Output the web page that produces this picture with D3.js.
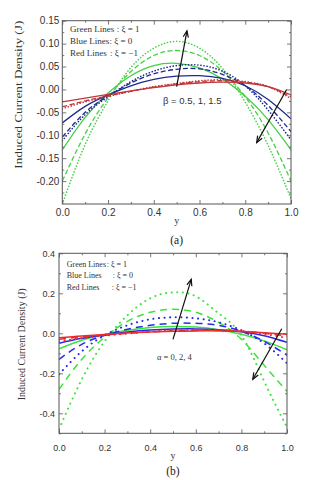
<!DOCTYPE html>
<html>
<head>
<meta charset="utf-8">
<script src="https://cdn.jsdelivr.net/npm/d3@7"></script>
<style>
body { margin: 0; background: #fff; }
svg { display: block; }
</style>
</head>
<body>
<svg id="chart" width="312" height="480"></svg>
<script>
// positions across the channel
var yPos = [0, 0.1, 0.2, 0.3, 0.4, 0.5, 0.6, 0.7, 0.8, 0.9, 1.0];

// panel (a): beta = 0.5 (solid), 1 (dashed), 1.5 (dotted)
var greenA = [
  [-0.132, -0.061, -0.008, 0.030, 0.052, 0.057, 0.047, 0.023, -0.015, -0.066, -0.132],
  [-0.200, -0.097, -0.018, 0.039, 0.074, 0.085, 0.074, 0.040, -0.016, -0.095, -0.200],
  [-0.250, -0.120, -0.025, 0.048, 0.090, 0.105, 0.090, 0.046, -0.028, -0.122, -0.238]
];
var blueA = [
  [-0.073, -0.037, -0.012, 0.008, 0.022, 0.029, 0.030, 0.024, 0.008, -0.022, -0.064],
  [-0.104, -0.050, -0.014, 0.014, 0.034, 0.044, 0.045, 0.033, 0.008, -0.035, -0.092],
  [-0.112, -0.055, -0.016, 0.017, 0.040, 0.052, 0.053, 0.040, 0.008, -0.045, -0.110]
];
var redA = [
  [-0.027, -0.019, -0.011, -0.003, 0.004, 0.010, 0.014, 0.016, 0.014, 0.006, -0.012],
  [-0.038, -0.025, -0.014, -0.004, 0.005, 0.012, 0.017, 0.019, 0.016, 0.006, -0.016],
  [-0.042, -0.027, -0.015, -0.004, 0.006, 0.013, 0.019, 0.021, 0.017, 0.006, -0.020]
];

// panel (b): alpha = 0 (solid), 2 (dashed), 4 (dotted)
var greenB = [
  [-0.078, -0.035, -0.006, 0.015, 0.029, 0.034, 0.031, 0.018, -0.005, -0.038, -0.082],
  [-0.280, -0.130, -0.020, 0.060, 0.105, 0.120, 0.105, 0.055, -0.030, -0.160, -0.290],
  [-0.480, -0.230, -0.040, 0.090, 0.175, 0.205, 0.185, 0.100, -0.010, -0.240, -0.470]
];
var blueB = [
  [-0.050, -0.025, -0.008, 0.006, 0.016, 0.021, 0.022, 0.018, 0.008, -0.012, -0.045],
  [-0.130, -0.055, -0.010, 0.020, 0.040, 0.050, 0.050, 0.040, 0.010, -0.040, -0.110],
  [-0.205, -0.090, -0.010, 0.040, 0.070, 0.080, 0.075, 0.055, 0.015, -0.050, -0.150]
];
var redB = [
  [-0.022, -0.013, -0.006, 0.001, 0.006, 0.010, 0.012, 0.012, 0.009, 0.003, -0.005],
  [-0.030, -0.018, -0.008, 0.000, 0.007, 0.012, 0.015, 0.015, 0.010, 0.000, -0.014],
  [-0.040, -0.024, -0.011, -0.001, 0.008, 0.014, 0.017, 0.017, 0.011, -0.003, -0.024]
];

var xTicks = [0, 0.2, 0.4, 0.6, 0.8, 1.0];
var xMinor = [0.1, 0.3, 0.5, 0.7, 0.9];
var yTicksA = [-0.20, -0.15, -0.10, -0.05, 0.00, 0.05, 0.10, 0.15];
var yMinorA = [-0.225, -0.175, -0.125, -0.075, -0.025, 0.025, 0.075, 0.125];
var yTicksB = [-0.4, -0.2, 0.0, 0.2, 0.4];
var yMinorB = [-0.5, -0.3, -0.1, 0.1, 0.3];

var legendNames = ["Green Lines", "Blue Lines", "Red Lines"];
var legendValues = [": \u03be = 1", ": \u03be = 0", ": \u03be = \u22121"];

// arrows in data units [x1, y1, x2, y2]
var arrowsA = [[0.50, 0.006, 0.545, 0.128], [0.981, 0.000, 0.85, -0.116]];
var arrowsB = [[0.50, -0.030, 0.58, 0.270], [0.977, 0.023, 0.85, -0.230]];

var sans = "'Liberation Sans', Arial, sans-serif",
    serif = "'Liberation Serif', 'Times New Roman', serif";

var svg = d3.select("#chart");

function drawPanel(p) {
  var x = d3.scaleLinear().domain([0, 1]).range([0, p.w]),
      y = d3.scaleLinear().domain(p.yDomain).range([p.h, 0]),
      g = svg.append("g").attr("transform", "translate(" + p.left + "," + p.top + ")");

  g.append("clipPath").attr("id", "clip" + p.id)
    .append("rect").attr("width", p.w).attr("height", p.h);

  // curves
  var line = d3.line()
      .x(function(d, i) { return x(yPos[i]); })
      .y(function(d) { return y(d); })
      .curve(d3.curveNatural);

  var curves = g.append("g").attr("clip-path", "url(#clip" + p.id + ")");
  p.series.forEach(function(s) {
    s.values.forEach(function(vals, k) {
      curves.append("path")
        .attr("d", line(vals))
        .attr("fill", "none")
        .attr("stroke", s.color)
        .attr("stroke-width", k == 2 ? p.dotWidth : p.lineWidth)
        .attr("stroke-linecap", k == 2 ? "round" : "butt")
        .attr("stroke-dasharray", p.dashes[k]);
    });
  });

  // axes with inward ticks on all sides
  function styleAxis(sel) {
    sel.select(".domain").remove();
    sel.selectAll(".tick line").attr("stroke", "#555").attr("stroke-width", 0.8);
    sel.selectAll(".tick text").attr("fill", "#333").style("font-family", sans).style("font-size", p.tickFont + "px");
  }
  g.append("g").attr("transform", "translate(0," + p.h + ")")
    .call(d3.axisBottom(x).tickValues(xTicks).tickFormat(d3.format(".1f")).tickSizeInner(-4).tickSizeOuter(0).tickPadding(p.xPad))
    .call(styleAxis);
  g.append("g").attr("transform", "translate(0," + p.h + ")")
    .call(d3.axisBottom(x).tickValues(xMinor).tickFormat("").tickSizeInner(-2).tickSizeOuter(0))
    .call(styleAxis);
  g.append("g")
    .call(d3.axisTop(x).tickValues(xTicks).tickFormat("").tickSizeInner(-4).tickSizeOuter(0))
    .call(styleAxis);
  g.append("g")
    .call(d3.axisTop(x).tickValues(xMinor).tickFormat("").tickSizeInner(-2).tickSizeOuter(0))
    .call(styleAxis);
  g.append("g")
    .call(d3.axisLeft(y).tickValues(p.yTicks).tickFormat(d3.format(p.yFormat)).tickSizeInner(-4).tickSizeOuter(0).tickPadding(p.yPad))
    .call(styleAxis);
  g.append("g")
    .call(d3.axisLeft(y).tickValues(p.yMinor).tickFormat("").tickSizeInner(-2).tickSizeOuter(0))
    .call(styleAxis);
  g.append("g").attr("transform", "translate(" + p.w + ",0)")
    .call(d3.axisRight(y).tickValues(p.yTicks).tickFormat("").tickSizeInner(-4).tickSizeOuter(0))
    .call(styleAxis);
  g.append("g").attr("transform", "translate(" + p.w + ",0)")
    .call(d3.axisRight(y).tickValues(p.yMinor).tickFormat("").tickSizeInner(-2).tickSizeOuter(0))
    .call(styleAxis);

  // negative labels use a plain hyphen like the original
  g.selectAll(".tick text").text(function() { return this.textContent.replace("\u2212", "-"); });

  g.append("rect")
    .attr("width", p.w).attr("height", p.h)
    .attr("fill", "none").attr("stroke", "#555").attr("stroke-width", 1);

  // legend text
  legendNames.forEach(function(name, i) {
    g.append("text")
      .attr("x", p.legendX).attr("y", p.legendY + i * p.legendStep)
      .style("font-family", serif).style("font-size", p.legendFont + "px").attr("fill", "#333")
      .text(name);
    g.append("text")
      .attr("x", p.colonX[i]).attr("y", p.legendY + i * p.legendStep)
      .style("font-family", serif).style("font-size", p.legendFont + "px").attr("fill", "#333")
      .text(legendValues[i]);
  });

  // arrows
  p.arrows.forEach(function(a) {
    var x1 = x(a[0]), y1 = y(a[1]), x2 = x(a[2]), y2 = y(a[3]),
        ang = Math.atan2(y2 - y1, x2 - x1),
        len = 7, spread = 0.38;
    g.append("line")
      .attr("x1", x1).attr("y1", y1).attr("x2", x2).attr("y2", y2)
      .attr("stroke", "#111").attr("stroke-width", 1.2);
    g.append("path")
      .attr("d", "M" + (x2 - len * Math.cos(ang - spread)) + "," + (y2 - len * Math.sin(ang - spread)) +
                 "L" + x2 + "," + y2 +
                 "L" + (x2 - len * Math.cos(ang + spread)) + "," + (y2 - len * Math.sin(ang + spread)))
      .attr("fill", "none").attr("stroke", "#111").attr("stroke-width", 1.2);
  });

  g.append("text")
    .attr("x", p.paramX).attr("y", p.paramY)
    .style("font-family", p.paramFamily).style("font-size", p.paramFont + "px").attr("fill", "#333")
    .text(p.paramText);

  // axis titles
  g.append("text")
    .attr("transform", "translate(" + p.titleX + "," + p.titleY + ") rotate(-90)")
    .attr("text-anchor", "middle")
    .attr("textLength", p.titleLen).attr("lengthAdjust", "spacingAndGlyphs")
    .style("font-family", serif).style("font-size", p.titleFont + "px").attr("fill", "#333")
    .text("Induced Current Density (J)");
  g.append("text")
    .attr("x", p.w / 2).attr("y", p.h + p.yLabelDy)
    .attr("text-anchor", "middle")
    .style("font-family", serif).style("font-size", "10px").attr("fill", "#333")
    .text("y");
  g.append("text")
    .attr("x", p.w / 2).attr("y", p.h + p.capDy)
    .attr("text-anchor", "middle")
    .style("font-family", serif).style("font-size", "11.5px").attr("fill", "#222")
    .text(p.caption);
}

drawPanel({
  id: "a", left: 62.3, top: 20.7, w: 228.7, h: 183.3,
  yDomain: [-0.25, 0.15], yTicks: yTicksA, yMinor: yMinorA, yFormat: ".2f",
  tickFont: 10, xPad: 5, yPad: 3,
  series: [
    {values: greenA, color: "#45d045"},
    {values: blueA, color: "#1f2a8f"},
    {values: redA, color: "#c0383a"}
  ],
  dashes: [null, "5,2.5", "0.1,3"], lineWidth: 1.3, dotWidth: 1.6,
  legendX: 7.7, legendY: 11.5, legendStep: 12, legendFont: 9, colonX: [54.4, 47.2, 47.7],
  arrows: arrowsA,
  paramText: "\u03b2 = 0.5, 1, 1.5", paramFamily: sans, paramFont: 9.5, paramX: 100.7, paramY: 83.5,
  titleX: -40.5, titleY: 74, titleFont: 10.5, titleLen: 148,
  yLabelDy: 20, capDy: 40, caption: "(a)"
});

drawPanel({
  id: "b", left: 59, top: 253.3, w: 228, h: 180,
  yDomain: [-0.5, 0.4], yTicks: yTicksB, yMinor: yMinorB, yFormat: ".1f",
  tickFont: 9, xPad: 11, yPad: 4,
  series: [
    {values: greenB, color: "#3ae43a"},
    {values: blueB, color: "#2a2ae6"},
    {values: redB, color: "#ee2a2a"}
  ],
  dashes: [null, "7,5", "0.1,5.5"], lineWidth: 1.5, dotWidth: 2,
  legendX: 7.7, legendY: 13.5, legendStep: 11.5, legendFont: 8, colonX: [47.7, 53.7, 52.7],
  arrows: arrowsB,
  paramText: "\u03b1 = 0, 2, 4", paramFamily: serif, paramFont: 8.5, paramX: 98, paramY: 106.5,
  titleX: -34, titleY: 91, titleFont: 9.5, titleLen: 112,
  yLabelDy: 26, capDy: 41.5, caption: "(b)"
});
</script>
</body>
</html>
